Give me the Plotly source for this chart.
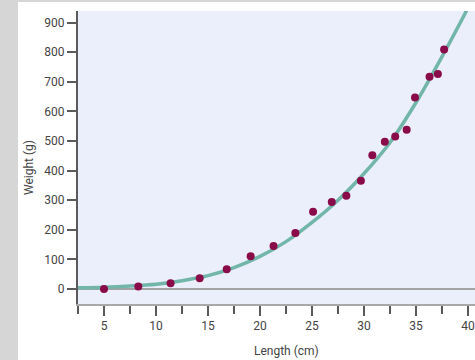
import plotly.graph_objects as go

length_cm = [5.0, 8.3, 11.4, 14.2, 16.8, 19.1, 21.3, 23.4, 25.1, 26.9,
             28.3, 29.7, 30.8, 32.0, 33.0, 34.1, 34.9, 36.3, 37.1, 37.7]
weight_g = [0, 8, 19, 36, 67, 111, 145, 189, 261, 294,
            315, 366, 452, 497, 515, 538, 647, 717, 726, 809]

# Fitted curve
curve_len = [2.5, 5, 7.5, 10, 12.5, 15, 17.5, 20, 22.5, 25, 27.5, 30, 32.5, 35, 37.5, 40, 40.7]
curve_wt = [4, 6, 10, 16, 28, 45, 72, 110, 160, 225, 300, 390, 495, 630, 785, 950, 1000]

x_ticks = [5, 10, 15, 20, 25, 30, 35, 40]
y_ticks = [0, 100, 200, 300, 400, 500, 600, 700, 800, 900]

FONT = "Roboto, Liberation Sans, sans-serif"
TXT = "#444444"

fig = go.Figure()
fig.add_trace(go.Scatter(
    x=curve_len, y=curve_wt, mode="lines",
    line=dict(color="#72b6aa", width=3.5, shape="spline", smoothing=0.8),
    hoverinfo="skip", showlegend=False, cliponaxis=True))
fig.add_trace(go.Scatter(
    x=length_cm, y=weight_g, mode="markers",
    marker=dict(color="#8a0b49", size=8),
    showlegend=False))

W, H = 475, 360
L, R, T, B = 78, 0, 11, 56
pw, ph = W - L - R, H - T - B

def px(xpix):
    return (xpix - L) / pw

def py(ypix):
    return (H - B - ypix) / ph

fig.update_layout(
    width=W, height=H,
    margin=dict(l=L, r=R, t=T, b=B, pad=0),
    paper_bgcolor="white",
    plot_bgcolor="#ebeffb",
    font=dict(family=FONT, color=TXT, size=12),
    xaxis=dict(
        range=[2.5, 40.67], tickmode="array", tickvals=x_ticks,
        ticktext=[str(v) for v in x_ticks],
        ticks="outside", ticklen=10, tickwidth=2, tickcolor="#5a5a5a",
        minor=dict(dtick=2.5, tick0=0, ticks="outside", ticklen=8, tickwidth=2, tickcolor="#5a5a5a"),
        showgrid=False, zeroline=False,
        showline=True, linecolor="#a8a8a8", linewidth=2,
        tickfont=dict(family=FONT, size=12, color=TXT),
        ticklabeloverflow="allow",
        fixedrange=True),
    yaxis=dict(
        range=[-50.7, 939], tickmode="array", tickvals=y_ticks,
        ticktext=[str(v) for v in y_ticks],
        ticks="outside", ticklen=9, tickwidth=2, tickcolor="#5a5a5a",
        showgrid=False, zeroline=True, zerolinecolor="#a3a3a3", zerolinewidth=1.5,
        showline=True, linecolor="#5a5a5a", linewidth=2,
        tickfont=dict(family=FONT, size=12, color=TXT),
        fixedrange=True),
    shapes=[
        dict(type="rect", xref="paper", yref="paper", x0=px(-5), x1=px(18), y0=py(400), y1=py(-5),
             fillcolor="#d6d6d6", line=dict(width=0), layer="below"),
        dict(type="rect", xref="paper", yref="paper", x0=px(-5), x1=px(480), y0=py(2), y1=py(-5),
             fillcolor="#d6d6d6", line=dict(width=0), layer="below"),
    ],
    annotations=[
        dict(text="Weight (g)", xref="paper", yref="paper", x=px(29), y=py(168),
             textangle=-90, showarrow=False, xanchor="center", yanchor="middle",
             font=dict(family=FONT, size=12, color=TXT)),
        dict(text="Length (cm)", xref="paper", yref="paper", x=px(286), y=py(351),
             showarrow=False, xanchor="center", yanchor="middle",
             font=dict(family=FONT, size=12, color=TXT)),
    ],
)

fig.write_html("out.html", config={"displayModeBar": False},
               post_script="document.body.style.margin='0';document.body.style.overflow='hidden';")
